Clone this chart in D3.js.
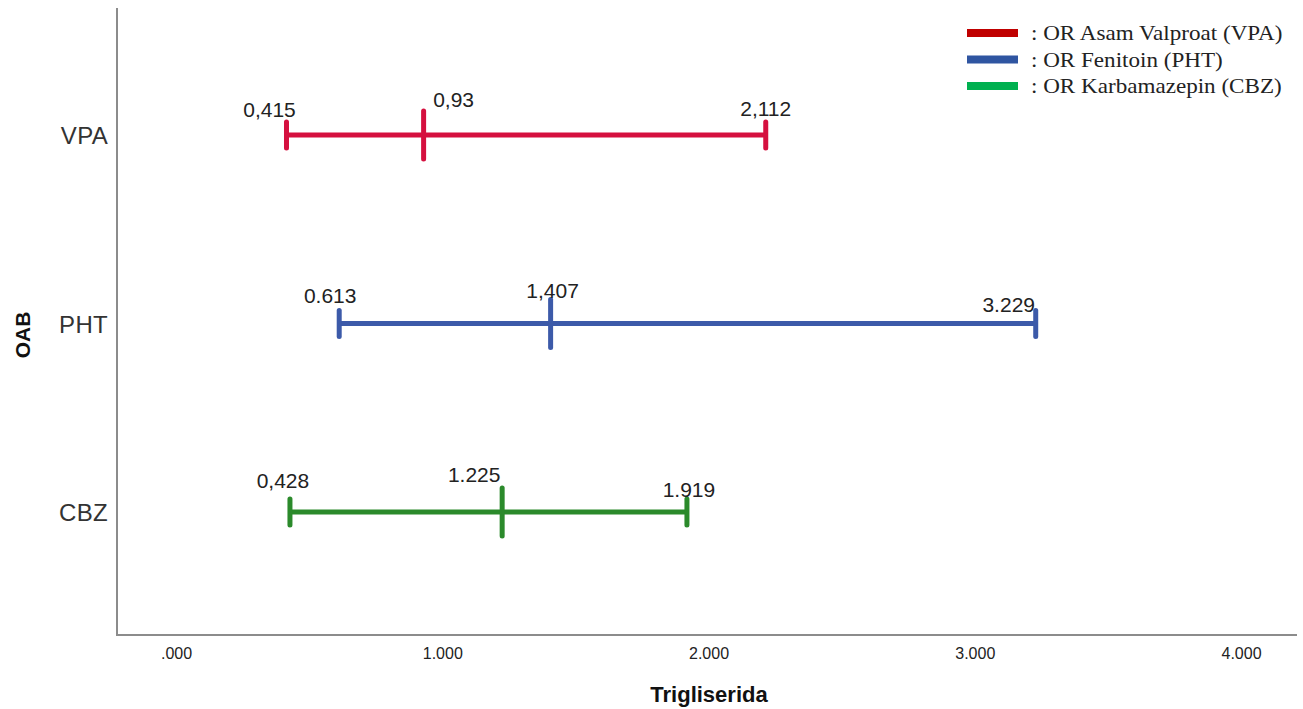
<!DOCTYPE html>
<html>
<head>
<meta charset="utf-8">
<script src="https://cdn.jsdelivr.net/npm/d3@7/dist/d3.min.js"></script>
<style>
  html, body { margin: 0; padding: 0; background: #ffffff; }
  svg { display: block; }
</style>
</head>
<body>
<script>
// ---- Data ----
const categories = ["VPA", "PHT", "CBZ"];
const lowerValues = [0.415, 0.613, 0.428];
const medianValues = [0.93, 1.407, 1.225];
const upperValues = [2.215, 3.229, 1.919];
const lowerLabels = ["0,415", "0.613", "0,428"];
const medianLabels = ["0,93", "1,407", "1.225"];
const upperLabels = ["2,112", "3.229", "1.919"];
const xTickValues = [0, 1, 2, 3, 4];
const xTickLabels = [".000", "1.000", "2.000", "3.000", "4.000"];
const legendLabels = [": OR Asam Valproat (VPA)", ": OR Fenitoin (PHT)", ": OR Karbamazepin (CBZ)"];
const xTitle = "Trigliserida";
const yTitle = "OAB";

// ---- Styles / layout ----
const W = 1303, H = 709;
const lineColors = ["#d5103f", "#3c5aa9", "#2b8a2b"];
const legendColors = ["#c00000", "#2f55a1", "#00b050"];
// label offsets [dx, dy] relative to each mark (lower, median, upper)
const labelOffsets = [
  [[-17, -18], [30, -28], [0, -19]],
  [[-9, -21], [2, -26], [-27, -12]],
  [[-7, -24], [-28, -30], [2, -15]]
];

const svg = d3.select("body").append("svg").attr("width", W).attr("height", H);

const x = d3.scaleLinear().domain([0, 4]).range([176, 1241]);
const y = d3.scalePoint().domain(categories).range([10, 637]).padding(0.663);

const frameLeft = 117, frameTop = 8, frameBottom = 635, frameRight = 1297;

// axes frame
svg.append("line").attr("x1", frameLeft).attr("x2", frameLeft).attr("y1", frameTop).attr("y2", frameBottom)
  .attr("stroke", "#8c8c8c").attr("stroke-width", 2);
svg.append("line").attr("x1", frameLeft - 1).attr("x2", frameRight).attr("y1", frameBottom).attr("y2", frameBottom)
  .attr("stroke", "#8c8c8c").attr("stroke-width", 2);

// x axis via d3 axis (no tick lines)
const xAxis = d3.axisBottom(x).tickValues(xTickValues).tickFormat((d, i) => xTickLabels[i]).tickSize(0).tickPadding(0);
const gx = svg.append("g").attr("transform", `translate(0, ${frameBottom})`).call(xAxis);
gx.select(".domain").remove();
gx.selectAll("text").attr("y", 24).attr("dy", 0)
  .attr("font-family", "Liberation Sans, Arial, sans-serif").attr("font-size", 16).attr("fill", "#222");

// y axis via d3 axis
const yAxis = d3.axisLeft(y).tickSize(0).tickPadding(9);
const gy = svg.append("g").attr("transform", `translate(${frameLeft}, 0)`).call(yAxis);
gy.select(".domain").remove();
gy.selectAll("text").attr("font-family", "Liberation Sans, Arial, sans-serif").attr("font-size", 24)
  .attr("fill", "#333").attr("dy", "0.36em").attr("letter-spacing", 0.3);

// axis titles
svg.append("text").attr("x", 709).attr("y", 702).attr("text-anchor", "middle")
  .attr("font-family", "Liberation Sans, Arial, sans-serif").attr("font-weight", "bold").attr("font-size", 22)
  .attr("fill", "#111").text(xTitle);
svg.append("text").attr("transform", "translate(30, 335) rotate(-90)").attr("text-anchor", "middle")
  .attr("font-family", "Liberation Sans, Arial, sans-serif").attr("font-weight", "bold").attr("font-size", 21)
  .attr("fill", "#111").text(yTitle);

// ---- Intervals ----
const rows = categories.map((c, i) => ({
  cat: c, lo: lowerValues[i], med: medianValues[i], hi: upperValues[i],
  labels: [lowerLabels[i], medianLabels[i], upperLabels[i]], color: lineColors[i], off: labelOffsets[i]
}));

const g = svg.append("g");
const sw = 5;
const capHalf = 13, medHalf = 24;

rows.forEach(r => {
  const cy = y(r.cat);
  g.append("line").attr("x1", x(r.lo)).attr("x2", x(r.hi)).attr("y1", cy).attr("y2", cy)
    .attr("stroke", r.color).attr("stroke-width", sw);
  [r.lo, r.hi].forEach(v => {
    g.append("line").attr("x1", x(v)).attr("x2", x(v)).attr("y1", cy - capHalf).attr("y2", cy + capHalf)
      .attr("stroke", r.color).attr("stroke-width", sw).attr("stroke-linecap", "round");
  });
  g.append("line").attr("x1", x(r.med)).attr("x2", x(r.med)).attr("y1", cy - medHalf).attr("y2", cy + medHalf)
    .attr("stroke", r.color).attr("stroke-width", sw).attr("stroke-linecap", "round");
  [r.lo, r.med, r.hi].forEach((v, k) => {
    g.append("text").attr("x", x(v) + r.off[k][0]).attr("y", cy + r.off[k][1])
      .attr("text-anchor", "middle").attr("font-family", "Liberation Sans, Arial, sans-serif")
      .attr("font-size", 21).attr("fill", "#222").text(r.labels[k]);
  });
});

// ---- Legend ----
const lg = svg.append("g");
legendLabels.forEach((t, i) => {
  const ly = 33 + i * 26.5;
  lg.append("rect").attr("x", 967).attr("y", ly - 4).attr("width", 51).attr("height", 8).attr("fill", legendColors[i]);
  lg.append("text").attr("transform", `translate(1031, ${ly + 7}) scale(1.1, 1)`)
    .attr("font-family", "Liberation Serif, Times New Roman, serif")
    .attr("font-size", 21).attr("fill", "#222").text(t);
});
</script>
</body>
</html>
